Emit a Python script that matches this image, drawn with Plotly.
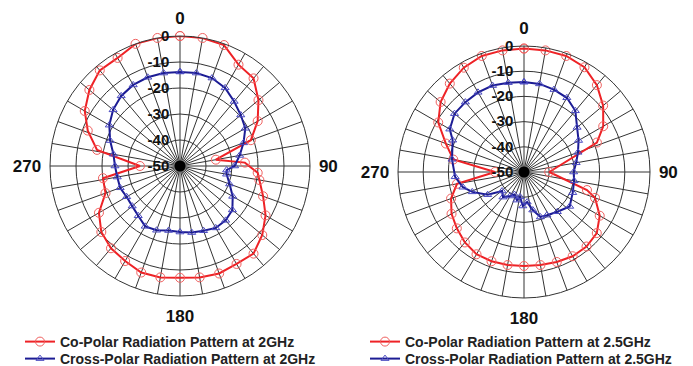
import plotly.graph_objects as go

# ---------------- data ----------------
# Left chart: 2 GHz
co2_theta = [0, 10, 20, 30, 40, 50, 60, 70, 80, 87, 95, 100, 110, 120, 130, 140, 150, 160, 170, 180,
             190, 200, 210, 220, 230, 240, 250, 261, 270, 281, 291, 300, 310, 320, 330, 340, 350, 360]
co2_r = [0, 0, -0.5, -5, -6, -10.6, -15.5, -21, -36, -25, -20, -19, -16, -12, -8.7, -6, -6.5, -6, -6.5, -7,
         -6.5, -6.4, -7.8, -8.7, -10.5, -14, -19.5, -20, -34.6, -17.5, -12, -7.7, -4.5, -2, -2, 0, 0, 0]

cx2_theta = [0, 10, 20, 30, 40, 50, 60, 70, 80, 90, 95, 100, 110, 120, 130, 140, 150, 160, 170, 180,
             190, 200, 210, 220, 230, 240, 250, 260, 270, 280, 290, 300, 310, 320, 330, 340, 350, 360]
cx2_r = [-13.8, -13.7, -14, -15.3, -17.6, -19.5, -21, -24, -26.7, -29, -32, -31.8, -29.7, -26.6, -23.7,
         -22.7, -22.5, -23.5, -24, -24.6, -24.8, -23.7, -23.2, -25, -26, -26.3, -25.5, -25.5, -25, -24,
         -21.4, -18.6, -16.4, -14.8, -14, -13.7, -13.7, -13.8]

# Right chart: 2.5 GHz
co25_theta = [0, 10, 20, 30, 40, 50, 60, 68, 90, 106, 110, 120, 130, 140, 150, 160, 170, 180,
              190, 200, 210, 220, 230, 240, 250, 260, 270, 280, 290, 300, 310, 320, 330, 340, 350, 360]
co25_r = [-1, -1, -1, -2, -5, -9, -13.7, -18.8, -40, -24, -20, -15.3, -12.3, -11.4, -11.4, -12, -12.5,
          -12.7, -12.5, -12.3, -12.3, -13.5, -15.2, -16.8, -19.2, -23, -38.5, -21.5, -17, -10.7, -6.8,
          -4.2, -2.2, -1, -1, -1]

cx25_theta = [0, 10, 20, 30, 40, 50, 60, 70, 80, 90, 100, 113, 127, 140, 152, 160, 167, 174, 182,
              189, 194, 203, 210, 220, 229, 238, 249, 256, 266, 280, 294, 300, 310, 320, 330, 340, 350, 360]
cx25_r = [-14.3, -14.5, -15.2, -16, -18.3, -22.5, -25, -27.2, -29, -30.3, -29.8, -29, -27.3, -29.4,
          -30.6, -31, -34.5, -38, -36.5, -40, -38.5, -40.3, -39, -37, -38.5, -33, -28, -25, -22.6, -21,
          -19, -16, -14, -13.8, -13.5, -13.5, -14, -14.3]

r_range = [-50, 0]
radial_ticks = [-50, -40, -30, -20, -10, 0]
angle_grid = list(range(0, 360, 10))
angle_labels = {0: "0", 90: "90", 180: "180", 270: "270"}

names = [
    ("Co-Polar Radiation Pattern at 2GHz", "Cross-Polar Radiation Pattern at 2GHz"),
    ("Co-Polar Radiation Pattern at 2.5GHz", "Cross-Polar Radiation Pattern at 2.5GHz"),
]

RED = "#ee2226"
BLUE = "#1c1c94"
FONT = "Liberation Sans, Arial, sans-serif"

fig = go.Figure()

def add_pair(co_t, co_r, cx_t, cx_r, polar, legs, nm):
    fig.add_trace(go.Scatterpolar(
        theta=co_t, r=co_r, mode="lines+markers", name=nm[0], subplot=polar, legend=legs[0],
        line=dict(color=RED, width=2),
        marker=dict(symbol="circle-open", size=9, color="#f0605f", line=dict(width=1))))
    fig.add_trace(go.Scatterpolar(
        theta=cx_t, r=cx_r, mode="lines+markers", name=nm[1], subplot=polar, legend=legs[1],
        line=dict(color=BLUE, width=2),
        marker=dict(symbol="triangle-up-open", size=7, color="#4a4ac0", line=dict(width=1))))
    fig.add_trace(go.Scatterpolar(
        theta=[0], r=[r_range[0]], mode="markers", subplot=polar, showlegend=False,
        marker=dict(color="black", size=11), hoverinfo="skip"))

add_pair(co2_theta, co2_r, cx2_theta, cx2_r, "polar", ("legend", "legend3"), names[0])
add_pair(co25_theta, co25_r, cx25_theta, cx25_r, "polar2", ("legend2", "legend4"), names[1])

def polar_cfg(xd, yd):
    return dict(
        domain=dict(x=xd, y=yd),
        bgcolor="white",
        angularaxis=dict(
            rotation=90, direction="clockwise",
            tickmode="array", tickvals=angle_grid,
            ticktext=[angle_labels.get(a, "") for a in angle_grid],
            showgrid=True, gridcolor="#333333", gridwidth=0.8,
            showline=True, linecolor="#333333", linewidth=1,
            ticks="outside", ticklen=5, tickcolor="rgba(0,0,0,0)",
            tickfont=dict(family=FONT, size=17, color="#111111", weight="bold"),
        ),
        radialaxis=dict(
            range=r_range, tickmode="array", tickvals=radial_ticks,
            ticktext=[str(v) for v in radial_ticks],
            angle=90, side="counterclockwise", tickangle=90,
            showgrid=True, gridcolor="#333333", gridwidth=0.8,
            showline=False, ticks="outside", ticklen=5, tickcolor="rgba(0,0,0,0)",
            tickfont=dict(family=FONT, size=15, color="#111111", weight="bold"),
        ),
    )

W, H = 693, 366

def leg(x_px, y_center_px):
    return dict(x=x_px / W, y=(H - (y_center_px - 15)) / H, xanchor="left", yanchor="top",
                font=dict(family=FONT, size=14, color="#222222", weight="bold"),
                bgcolor="rgba(0,0,0,0)", itemwidth=30, tracegroupgap=0)

fig.update_layout(
    width=W, height=H,
    margin=dict(l=0, r=0, t=0, b=0, autoexpand=False),
    paper_bgcolor="white",
    showlegend=True,
    polar=polar_cfg([50 / W, 310 / W], [(H - 296) / H, (H - 36) / H]),
    polar2=polar_cfg([398 / W, 650 / W], [(H - 298) / H, (H - 46) / H]),
    legend=leg(20, 341),
    legend3=leg(20, 358),
    legend2=leg(365, 341),
    legend4=leg(365, 358),
)

fig.write_html("out.html")
